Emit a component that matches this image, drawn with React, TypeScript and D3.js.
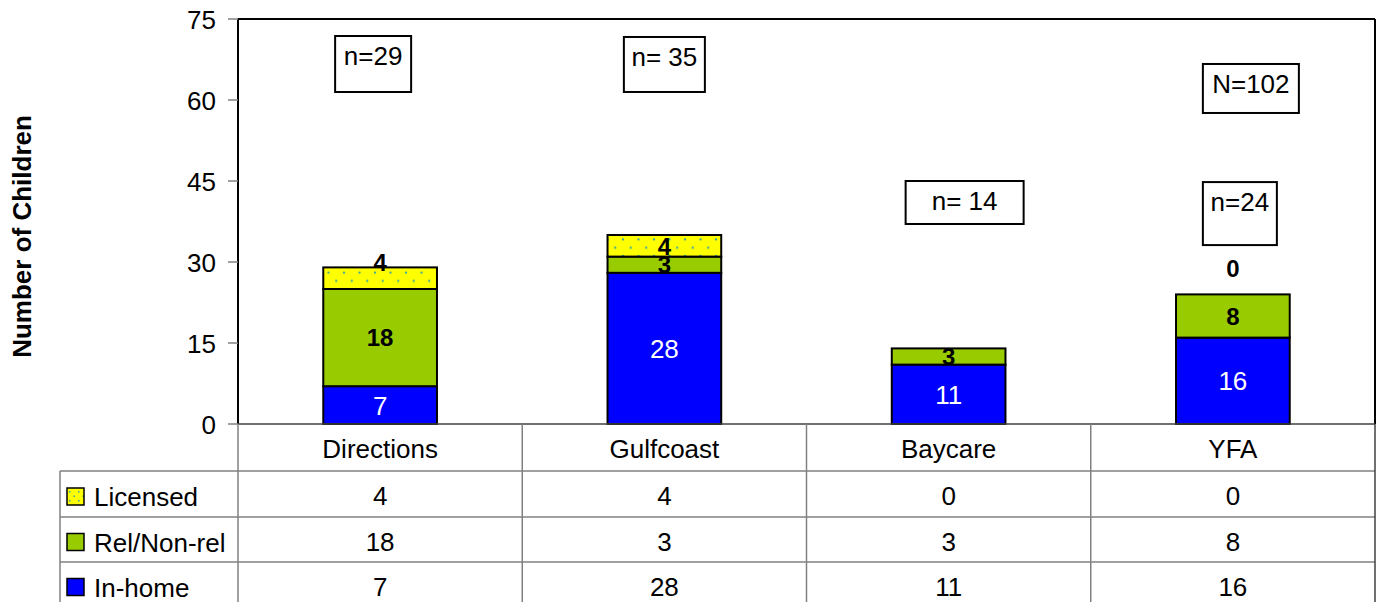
import React from 'react';
import * as d3 from 'd3';

// chart values
const categories = ['Directions', 'Gulfcoast', 'Baycare', 'YFA'];
const inHome = [7, 28, 11, 16];
const relNonRel = [18, 3, 3, 8];
const licensed = [4, 4, 0, 0];
const seriesNames = ['Licensed', 'Rel/Non-rel', 'In-home'];
const yTicks = [0, 15, 30, 45, 60, 75];
const boxTexts = ['n=29', 'n= 35', 'n= 14', 'N=102', 'n=24'];
const yTitle = 'Number of Children';

// where the note boxes sit (category, shift from band centre, top value, size)
const boxLayout = [
  { cat: 0, dx: -7, top: 71.85, w: 76, h: 56 },
  { cat: 1, dx: 0, top: 71.67, w: 81, h: 55 },
  { cat: 2, dx: 16, top: 45, w: 118, h: 43 },
  { cat: 3, dx: 18, top: 66.67, w: 96, h: 49 },
  { cat: 3, dx: 7, top: 44.8, w: 74, h: 63 },
];

// label shifts (px) for the licensed labels Excel put off-centre; null = no label
const licensedNudge: (number | null)[] = [-16, 0, null, -26];

const W = 1380;
const H = 602;
const FONT = 'Arial, "Liberation Sans", Helvetica, sans-serif';
const BLUE = '#0000ff';
const GREEN = '#99cc00';
const YELLOW = '#ffff00';
const GRID = '#808080';

const plot = { left: 238, right: 1375, top: 19, bottom: 424 };
const tableLeft = 60;
const rowEdges = [424, 471, 517, 562, 607];

export default function App() {
  const x = d3
    .scaleBand<string>()
    .domain(categories)
    .range([plot.left, plot.right])
    .paddingInner(0.6)
    .paddingOuter(0.3);

  const col = d3.scaleBand<string>().domain(categories).range([plot.left, plot.right]);

  const y = d3.scaleLinear().domain([0, 75]).range([plot.bottom, plot.top]);

  const rows = categories.map((c, i) => ({
    cat: c,
    inHome: inHome[i],
    rel: relNonRel[i],
    lic: licensed[i],
  }));
  const stack = d3.stack<any>().keys(['inHome', 'rel', 'lic'])(rows);
  const fills = [BLUE, GREEN, 'url(#dots)'];

  const tableValues = [licensed, relNonRel, inHome];
  const swatchFills = ['url(#dotsSwatch)', GREEN, BLUE];

  return (
    <svg
      width={W}
      height={H}
      style={{ position: 'absolute', left: 0, top: 0, background: '#fff' }}
      fontFamily={FONT}
    >
      <defs>
        <pattern id="dots" patternUnits="userSpaceOnUse" width={15.5} height={16.6} x={2} y={6}>
          <rect width={15.5} height={16.6} fill={YELLOW} />
          <rect x={0} y={0} width={2} height={2} fill="#3aa8a0" />
          <rect x={7.75} y={8.3} width={2} height={2} fill="#3aa8a0" />
        </pattern>
        <pattern id="dotsSwatch" patternUnits="userSpaceOnUse" width={9} height={9} x={69} y={491}>
          <rect width={9} height={9} fill={YELLOW} />
          <rect x={0} y={0} width={1.5} height={1.5} fill="#3aa8a0" />
          <rect x={4.5} y={4.5} width={1.5} height={1.5} fill="#3aa8a0" />
        </pattern>
      </defs>

      {/* plot frame */}
      <line x1={plot.left} x2={plot.right} y1={plot.top} y2={plot.top} stroke="#000" strokeWidth={2} />
      <line x1={plot.right} x2={plot.right} y1={plot.top} y2={plot.bottom} stroke="#000" strokeWidth={2} />

      {/* bars */}
      {stack.map((s, si) =>
        s.map((d, i) => {
          const h = y(d[0]) - y(d[1]);
          if (h <= 0) return null;
          return (
            <rect
              key={`${si}-${i}`}
              x={x(categories[i])}
              y={y(d[1])}
              width={x.bandwidth()}
              height={h}
              fill={fills[si]}
              stroke="#000"
              strokeWidth={2}
            />
          );
        })
      )}

      {/* bar labels */}
      {stack.map((s, si) =>
        s.map((d, i) => {
          if (si === 2 && licensedNudge[i] === null) return null;
          const cx = (x(categories[i]) as number) + x.bandwidth() / 2;
          let cy = (y(d[0]) + y(d[1])) / 2;
          if (si === 2) cy += licensedNudge[i] as number;
          const v = d[1] - d[0];
          const white = si === 0;
          return (
            <text
              key={`l${si}-${i}`}
              x={cx}
              y={cy + (white ? 9.5 : 8.7)}
              textAnchor="middle"
              fontSize={white ? 26 : 24}
              fontWeight={white ? 'normal' : 'bold'}
              fill={white ? '#fff' : '#000'}
            >
              {v}
            </text>
          );
        })
      )}

      {/* y axis */}
      <line x1={plot.left} x2={plot.left} y1={plot.top} y2={plot.bottom} stroke="#000" strokeWidth={2} />
      {yTicks.map((t) => (
        <g key={t}>
          <line x1={plot.left - 10} x2={plot.left} y1={y(t)} y2={y(t)} stroke={GRID} strokeWidth={1.5} />
          <text x={216} y={y(t) + 10} textAnchor="end" fontSize={26}>
            {t}
          </text>
        </g>
      ))}
      <text
        transform={`translate(31, ${(plot.top + plot.bottom) / 2 + 15}) rotate(-90)`}
        textAnchor="middle"
        fontSize={26}
        fontWeight="bold"
      >
        {yTitle}
      </text>

      {/* note boxes */}
      {boxLayout.map((b, i) => {
        const cx = (col(categories[b.cat]) as number) + col.bandwidth() / 2 + b.dx;
        const top = y(b.top);
        return (
          <g key={`b${i}`}>
            <rect x={cx - b.w / 2} y={top} width={b.w} height={b.h} fill="#fff" stroke="#000" strokeWidth={2} />
            <text x={cx} y={top + 29} textAnchor="middle" fontSize={26}>
              {boxTexts[i]}
            </text>
          </g>
        );
      })}

      {/* data table */}
      {rowEdges.map((ry, i) => (
        <line
          key={`r${i}`}
          x1={i === 0 ? plot.left : tableLeft}
          x2={plot.right}
          y1={ry}
          y2={ry}
          stroke={i === 0 ? '#404040' : GRID}
          strokeWidth={1.5}
        />
      ))}
      <line x1={tableLeft} x2={tableLeft} y1={rowEdges[1]} y2={H} stroke={GRID} strokeWidth={1.5} />
      {categories.map((c) => (
        <line
          key={`v${c}`}
          x1={col(c)}
          x2={col(c)}
          y1={plot.bottom}
          y2={H}
          stroke={GRID}
          strokeWidth={1.5}
        />
      ))}
      <line x1={plot.right} x2={plot.right} y1={plot.bottom} y2={H} stroke="#404040" strokeWidth={1.5} />

      {categories.map((c) => (
        <text
          key={`h${c}`}
          x={(col(c) as number) + col.bandwidth() / 2}
          y={(rowEdges[0] + rowEdges[1]) / 2 + 10}
          textAnchor="middle"
          fontSize={26}
        >
          {c}
        </text>
      ))}

      {seriesNames.map((name, ri) => {
        const mid = (rowEdges[ri + 1] + rowEdges[ri + 2]) / 2;
        return (
          <g key={name}>
            <rect x={67} y={mid - 6} width={17} height={17} fill={swatchFills[ri]} stroke="#000" strokeWidth={1.5} />
            <text x={94} y={mid + 12} fontSize={26}>
              {name}
            </text>
            {categories.map((c, ci) => (
              <text
                key={c}
                x={(col(c) as number) + col.bandwidth() / 2}
                y={mid + 11}
                textAnchor="middle"
                fontSize={26}
              >
                {tableValues[ri][ci]}
              </text>
            ))}
          </g>
        );
      })}
    </svg>
  );
}
